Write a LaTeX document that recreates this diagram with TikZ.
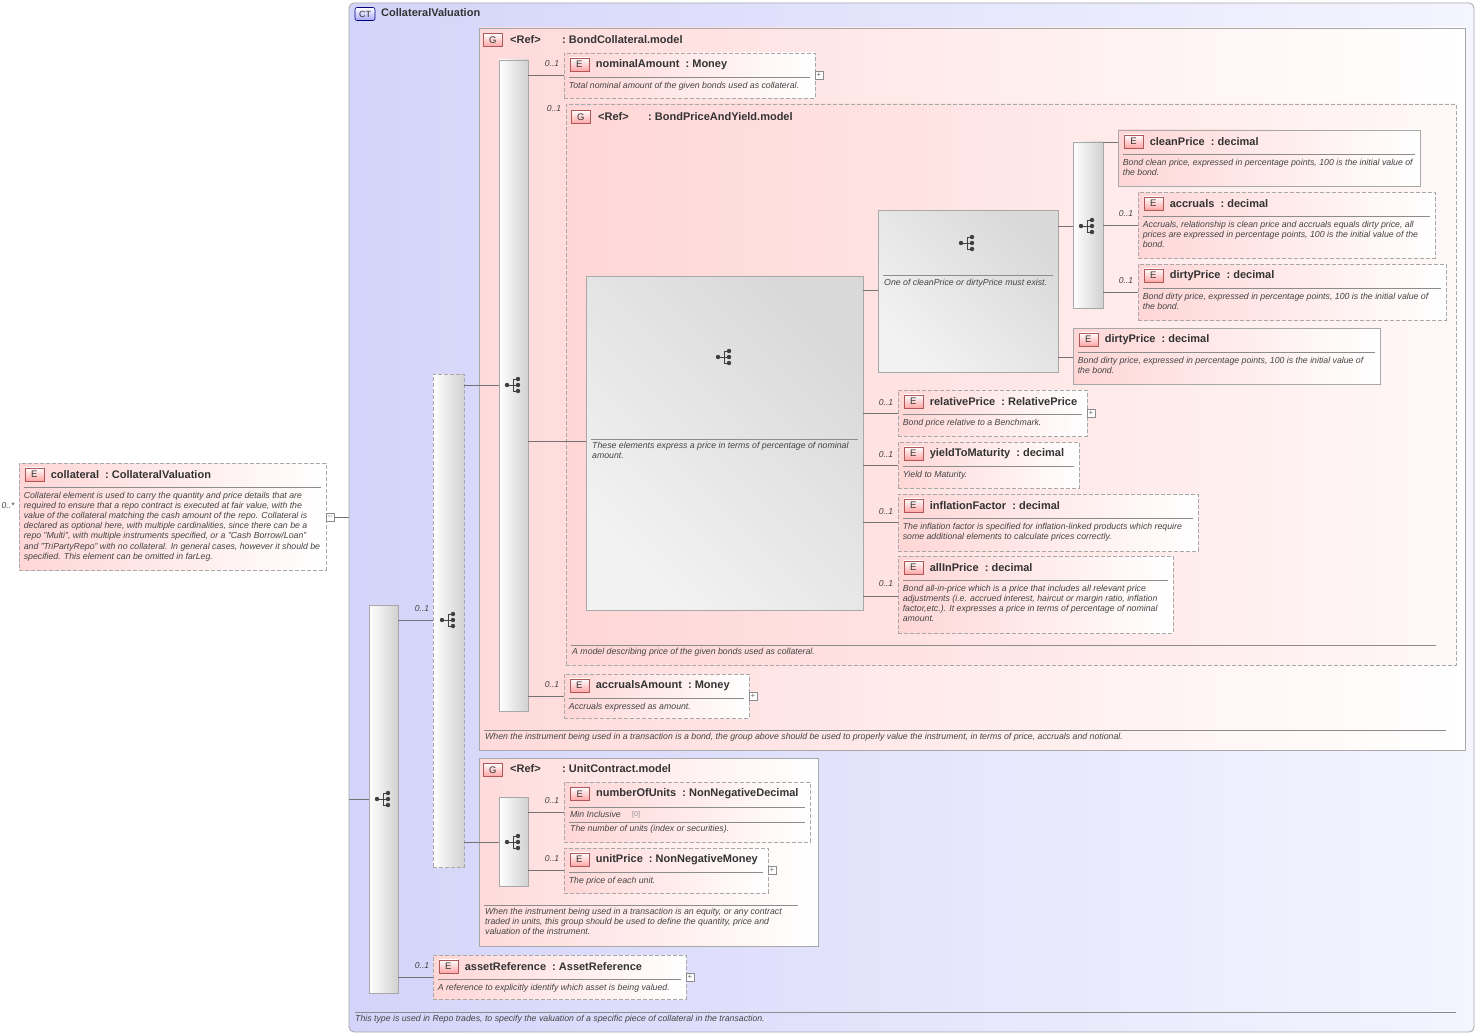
\documentclass[tikz,border=0pt]{standalone}
\usepackage{fontspec}
\setmainfont{Liberation Sans}
\usetikzlibrary{fit}
\newcommand\nohy{\hyphenpenalty 10000 \exhyphenpenalty 10000 }
\definecolor{bord}{HTML}{A8A8A8}
\definecolor{pinkf}{HTML}{FFD6D6}
\definecolor{bluef}{HTML}{D4D4FA}
\definecolor{badgeb}{HTML}{B05858}
\definecolor{txt}{HTML}{333333}
\definecolor{desc}{HTML}{444444}
\tikzset{
 x=1pt,y=-1pt,
 elsolid/.style={draw=bord,line width=0.8pt,left color=pinkf,right color=white,shading angle=90},
 eldash/.style={elsolid,dashed,dash pattern=on 4pt off 2pt},
 grp/.style={draw=bord,line width=0.8pt,left color=pinkf!90,right color=white},
 bar/.style={draw=bord,line width=0.8pt,left color=white,right color=black!18},
 barbox/.style={draw=bord,line width=0.8pt,top color=white!95!black,bottom color=black!15,shading angle=135},
 conn/.style={draw=black!55,line width=0.6pt},
 card/.style={font=\fontsize{8.6}{9}\selectfont\itshape,text=desc,inner sep=0pt},
 ttl/.style={font=\fontsize{11}{12}\selectfont\bfseries,text=txt,inner sep=0pt,anchor=west},
 dsc/.style={font=\fontsize{8.75}{10.2}\selectfont\itshape\nohy,text=desc,inner sep=0pt,anchor=north west,align=flush left},
 badge/.style={draw=badgeb,line width=0.6pt,top color=white,bottom color=red!35,font=\fontsize{9.5}{9}\selectfont,text=txt,minimum width=19pt,minimum height=13pt,inner sep=0pt},
 plusbox/.style={draw=black!45,line width=0.5pt,fill=white,minimum size=8pt,inner sep=0pt,font=\fontsize{8}{8}\selectfont,text=black!55},
}
% \elem{name}{x1}{y1}{x2}{y2}{style}{title}{desc}
\newcommand\elem[8]{%
 \node[#6,fit={(#2,#3)(#4,#5)},inner sep=0pt] (#1) {};
 \node[badge,anchor=north west] at ([xshift=6pt,yshift=-5pt]#1.north west) {E};
 \node[ttl] at ([xshift=32pt,yshift=-12pt]#1.north west) {#7};
 \draw[black!45,line width=0.6pt] ([xshift=5pt,yshift=-25pt]#1.north west) -- ([xshift=-5pt,yshift=-25pt]#1.north east);
 \node[dsc,text width=#4-#2-10] at ([xshift=5pt,yshift=-29pt]#1.north west) {#8};
}
\newcommand\icn[2]{%
 \begin{scope}[shift={(#1,#2)}]
 \draw[black!75,line width=1pt] (-7,0) -- (-1,0) (-1,-6) -- (-1,6) (-1,-6) -- (4,-6) (-1,0) -- (4,0) (-1,6) -- (4,6);
 \fill[black!75] (-7,0) circle (2.2) (4,-6) circle (2.2) (4,0) circle (2.2) (4,6) circle (2.2);
 \end{scope}}
\begin{document}
\begin{tikzpicture}
\useasboundingbox (0,0) rectangle (1479,1035);
\fill[white] (0,0) rectangle (1479,1035);
% CT box
\node[draw=bord,line width=0.8pt,rounded corners=5pt,left color=bluef,right color=white!96!blue,fit={(349,3)(1474,1032)},inner sep=0pt] (ct) {};
\node[draw=black!50!blue,line width=0.6pt,rounded corners=2pt,top color=white,bottom color=bluef!80!blue,font=\fontsize{9}{9}\selectfont,text=txt,minimum width=20pt,minimum height=13pt,inner sep=0pt] at (365,14) (ctb) {CT};
\node[ttl] at (381,13) {CollateralValuation};
\draw[black!45,line width=0.6pt] (355,1012) -- (1456,1012);
\node[dsc] at (355,1015) {This type is used in Repo trades, to specify the valuation of a specific piece of collateral in the transaction.};

% collateral
\elem{coll}{19}{463}{326}{570}{eldash}{collateral\ \ :\ CollateralValuation}{Collateral element is used to carry the quantity and price details that are required to ensure that a repo contract is executed at fair value, with the value of the collateral matching the cash amount of the repo. Collateral is declared as optional here, with multiple cardinalities, since there can be a repo "Multi", with multiple instruments specified, or a "Cash Borrow/Loan" and "TriPartyRepo" with no collateral. In general cases, however it should be specified. This element can be omitted in farLeg.}
\node[card] at (8,506) {0..*};
\node[plusbox] (cm) at (330,517) {--};
\draw[conn] (cm.east) -- (cm.east -| ct.west);

% outer sequence
\node[bar,fit={(369,605)(398,993)},inner sep=0pt] (s0) {};
\icn{384}{799}
\coordinate (ctin) at (349,799);
\draw[conn] (ctin) -- (ctin -| s0.west);

% choice
\node[bar,dashed,dash pattern=on 4pt off 2pt,fit={(433,374)(464,867)},inner sep=0pt] (ch) {};
\icn{449}{620}
\coordinate (chin) at (433,620);
\draw[conn] (chin -| s0.east) -- (chin);
\node[card] at (422,609) {0..1};

% asset reference
\elem{asset}{433}{955}{686}{999}{eldash}{assetReference\ \ :\ AssetReference}{A reference to explicitly identify which asset is being valued.}
\coordinate (asin) at (433,977);
\draw[conn] (asin -| s0.east) -- (asin);
\node[card] at (422,966) {0..1};
\node[plusbox] at (690,977) {+};

% BondCollateral group
\node[grp,fit={(479,28)(1465,750)},inner sep=0pt] (g1) {};
\node[badge,anchor=north west] at (483,33) {G};
\node[ttl] at (510,40) {<Ref>};
\node[ttl] at (562,40) {:\ BondCollateral.model};
\draw[black!45,line width=0.6pt] (484,730) -- (1446,730);
\node[dsc] at (485,733) {When the instrument being used in a transaction is a bond, the group above should be used to properly value the instrument, in terms of price, accruals and notional.};
\node[bar,fit={(499,60)(528,711)},inner sep=0pt] (s1) {};
\icn{514}{385}
\coordinate (g1in) at (499,385);
\draw[conn] (g1in -| ch.east) -- (g1in);

\elem{nom}{564}{53}{815}{98}{eldash}{nominalAmount\ \ :\ Money}{Total nominal amount of the given bonds used as collateral.}
\coordinate (nomin) at (564,75);
\draw[conn] (nomin -| s1.east) -- (nomin);
\node[card] at (552,64) {0..1};
\node[plusbox] at (819,75) {+};

% BondPriceAndYield group
\node[draw=bord,line width=0.8pt,dashed,dash pattern=on 4pt off 2pt,left color=pinkf,right color=white!97!red,fit={(566,104)(1456,665)},inner sep=0pt] (g2) {};
\node[card] at (554,109) {0..1};
\node[badge,anchor=north west] at (571,110) {G};
\node[ttl] at (598,117) {<Ref>};
\node[ttl] at (648,117) {:\ BondPriceAndYield.model};
\draw[black!45,line width=0.6pt] (571,645) -- (1436,645);
\node[dsc] at (572,648) {A model describing price of the given bonds used as collateral.};

% big choice box
\node[barbox,fit={(586,276)(863,610)},inner sep=0pt] (bc) {};
\icn{725}{357}
\draw[black!45,line width=0.6pt] (591,439) -- (858,439);
\node[dsc,text width=268pt] at (592,442) {These elements express a price in terms of percentage of nominal amount.};
\coordinate (bcin) at (586,441);
\draw[conn] (bcin -| s1.east) -- (bcin);

% inner choice box
\node[barbox,fit={(878,210)(1058,372)},inner sep=0pt] (ic) {};
\icn{968}{243}
\draw[black!45,line width=0.6pt] (883,275) -- (1053,275);
\node[dsc] at (884,279) {One of cleanPrice or dirtyPrice must exist.};
\coordinate (icin) at (878,290);
\draw[conn] (icin -| bc.east) -- (icin);

% small sequence
\node[bar,fit={(1073,142)(1103,308)},inner sep=0pt] (s2) {};
\icn{1088}{226}
\coordinate (s2in) at (1073,226);
\draw[conn] (s2in -| ic.east) -- (s2in);

\elem{clean}{1118}{130}{1420}{186}{elsolid}{cleanPrice\ \ :\ decimal}{Bond clean price, expressed in percentage points, 100 is the initial value of the bond.}
\coordinate (clin) at (1118,142);
\draw[conn] (clin -| s2.east) -- (clin);

\elem{accr}{1138}{192}{1435}{258}{eldash}{accruals\ \ :\ decimal}{Accruals, relationship is clean price and accruals equals dirty price, all prices are expressed in percentage points, 100 is the initial value of the bond.}
\coordinate (acin) at (1138,225);
\draw[conn] (acin -| s2.east) -- (acin);
\node[card] at (1126,214) {0..1};

\elem{dirty}{1138}{264}{1446}{320}{eldash}{dirtyPrice\ \ :\ decimal}{Bond dirty price, expressed in percentage points, 100 is the initial value of the bond.}
\coordinate (drin) at (1138,292);
\draw[conn] (drin -| s2.east) -- (drin);
\node[card] at (1126,281) {0..1};

\elem{dirtyb}{1073}{328}{1380}{384}{elsolid}{dirtyPrice\ \ :\ decimal}{Bond dirty price, expressed in percentage points, 100 is the initial value of the bond.}
\coordinate (dbin) at (1073,357);
\draw[conn] (dbin -| ic.east) -- (dbin);

\elem{rel}{898}{390}{1087}{436}{eldash}{relativePrice\ \ :\ RelativePrice}{Bond price relative to a Benchmark.}
\coordinate (relin) at (898,413);
\draw[conn] (relin -| bc.east) -- (relin);
\node[card] at (886,403) {0..1};
\node[plusbox] at (1091,413) {+};

\elem{yld}{898}{442}{1079}{488}{eldash}{yieldToMaturity\ \ :\ decimal}{Yield to Maturity.}
\coordinate (yin) at (898,465);
\draw[conn] (yin -| bc.east) -- (yin);
\node[card] at (886,455) {0..1};

\elem{infl}{898}{494}{1198}{551}{eldash}{inflationFactor\ \ :\ decimal}{The inflation factor is specified for inflation-linked products which require some additional elements to calculate prices correctly.}
\coordinate (iin) at (898,522);
\draw[conn] (iin -| bc.east) -- (iin);
\node[card] at (886,512) {0..1};

\elem{allin}{898}{556}{1173}{633}{eldash}{allInPrice\ \ :\ decimal}{Bond all-in-price which is a price that includes all relevant price adjustments (i.e. accrued interest, haircut or margin ratio, inflation factor,etc.). It expresses a price in terms of percentage of nominal amount.}
\coordinate (aiin) at (898,596);
\draw[conn] (aiin -| bc.east) -- (aiin);
\node[card] at (886,584) {0..1};

\elem{acam}{564}{674}{749}{718}{eldash}{accrualsAmount\ \ :\ Money}{Accruals expressed as amount.}
\coordinate (aain) at (564,696);
\draw[conn] (aain -| s1.east) -- (aain);
\node[card] at (552,685) {0..1};
\node[plusbox] at (753,696) {+};

% UnitContract group
\node[grp,fit={(479,758)(818,946)},inner sep=0pt] (g3) {};
\node[badge,anchor=north west] at (483,763) {G};
\node[ttl] at (510,769) {<Ref>};
\node[ttl] at (562,769) {:\ UnitContract.model};
\draw[black!45,line width=0.6pt] (484,905) -- (798,905);
\node[dsc,text width=318pt] at (485,908) {When the instrument being used in a transaction is an equity, or any contract traded in units, this group should be used to define the quantity, price and valuation of the instrument.};
\node[bar,fit={(499,797)(528,886)},inner sep=0pt] (s3) {};
\icn{514}{842}
\coordinate (g3in) at (499,842);
\draw[conn] (g3in -| ch.east) -- (g3in);

\node[eldash,fit={(564,782)(810,842)},inner sep=0pt] (nou) {};
\node[badge,anchor=north west] at (570,787) {E};
\node[ttl] at (596,794) {numberOfUnits\ \ :\ NonNegativeDecimal};
\draw[black!45,line width=0.6pt] (569,807) -- (805,807);
\node[dsc] at (570,811) {Min Inclusive};
\node[dsc,text=black!45,font=\fontsize{7}{9}\selectfont] at (632,811) {[0]};
\draw[black!45,line width=0.6pt] (569,822) -- (805,822);
\node[dsc] at (570,825) {The number of units (index or securities).};
\coordinate (nuin) at (564,812);
\draw[conn] (nuin -| s3.east) -- (nuin);
\node[card] at (552,801) {0..1};

\elem{upr}{564}{848}{768}{893}{eldash}{unitPrice\ \ :\ NonNegativeMoney}{The price of each unit.}
\coordinate (upin) at (564,870);
\draw[conn] (upin -| s3.east) -- (upin);
\node[card] at (552,859) {0..1};
\node[plusbox] at (772,870) {+};
\end{tikzpicture}
\end{document}
